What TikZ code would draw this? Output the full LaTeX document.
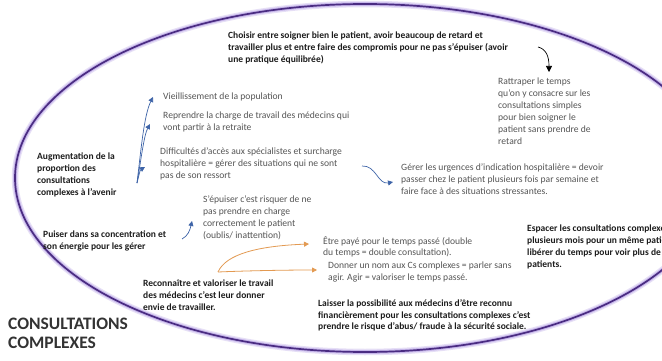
\documentclass[tikz,border=0pt]{standalone}
\usepackage{fontspec}
\setmainfont{Carlito}
\usetikzlibrary{arrows.meta}
\definecolor{ringdark}{HTML}{4A2C82}
\definecolor{ringglow}{HTML}{B9A5E6}
\definecolor{txtgray}{HTML}{555555}
\definecolor{txtdark}{HTML}{1C1C1C}
\definecolor{arrblue}{HTML}{3E64A8}
\definecolor{arrorange}{HTML}{E39A52}
\begin{document}
\begin{tikzpicture}[x=1pt,y=-1pt,
  note/.style={anchor=north west, inner sep=0pt, align=left, text=txtgray,
    font=\fontsize{9.6}{11.9}\selectfont},
  keynote/.style={note, text=txtdark, font=\fontsize{9.5}{11.9}\selectfont\bfseries},
  titletext/.style={anchor=north west, inner sep=0pt, align=left, text=txtdark!90,
    font=\fontsize{17.5}{19}\selectfont\bfseries},
  tip/.style={-{Triangle[width=5pt,length=5pt]}},
  bluearrow/.style={draw=arrblue, line width=0.7pt, tip},
  orangearrow/.style={draw=arrorange, line width=0.8pt, tip},
  blackarrow/.style={draw=black, line width=0.7pt, -{Triangle[width=6pt,length=6pt]}},
]
\useasboundingbox (0,0) rectangle (662,361);
\fill[white] (0,0) rectangle (662,361);
\begin{scope}
\clip (0,0) rectangle (662,361);

% glowing ring around the whole map
\draw[ringglow, opacity=0.35, line width=6.5pt] (365,178) ellipse [x radius=350, y radius=174];
\draw[ringglow, opacity=0.7, line width=3.8pt] (365,178) ellipse [x radius=350, y radius=174];
\draw[ringdark, line width=1.7pt] (365,178) ellipse [x radius=350, y radius=174];

% text blocks
\node[keynote] (choisir) at (228,32) {Choisir entre soigner bien le patient, avoir beaucoup de retard et\\
  travailler plus et entre faire des compromis pour ne pas s'épuiser (avoir\\
  une pratique équilibrée)};
\node[note] (rattraper) at (498,78) {Rattraper le temps\\ qu'on y consacre sur les\\
  consultations simples\\ pour bien soigner le\\ patient sans prendre de\\ retard};
\node[note] (vieil) at (163,93) {Vieillissement de la population};
\node[note] (reprendre) at (163,112) {Reprendre la charge de travail des médecins qui\\
  vont partir à la retraite};
\node[note] (difficultes) at (160,148) {Difficultés d'accès aux spécialistes et surcharge\\
  hospitalière = gérer des situations qui ne sont\\ pas de son ressort};
\node[keynote] (augmentation) at (37,153) {Augmentation de la\\ proportion des\\
  consultations\\ complexes à l'avenir};
\node[note] (gerer) at (401,164) {Gérer les urgences d'indication hospitalière = devoir\\
  passer chez le patient plusieurs fois par semaine et\\ faire face à des situations stressantes.};
\node[keynote] (puiser) at (43,231) {Puiser dans sa concentration et\\ son énergie pour les gérer};
\node[note] (epuiser) at (203,196) {S'épuiser c'est risquer de ne\\ pas prendre en charge\\
  correctement le patient\\ (oublis/ inattention)};
\node[note] (etre) at (323,236) {Être payé pour le temps passé (double\\ du temps = double consultation).};
\node[note] (donner) at (328,262) {Donner un nom aux Cs complexes = parler sans\\
  agir. Agir = valoriser le temps passé.};
\node[keynote] (reconnaitre) at (143,280) {Reconnaître et valoriser le travail\\
  des médecins c'est leur donner\\ envie de travailler.};
\node[keynote] (laisser) at (318,299) {Laisser la possibilité aux médecins d'être reconnu\\
  financièrement pour les consultations complexes c'est\\
  prendre le risque d'abus/ fraude à la sécurité sociale.};
\node[keynote] (espacer) at (527,225) {Espacer les consultations complexes sur\\
  plusieurs mois pour un même patient et\\ libérer du temps pour voir plus de\\ patients.};
\node[titletext] (titre) at (8,318) {CONSULTATIONS\\ COMPLEXES};

% arrow ends
\coordinate (blueroot) at (137,183);
\coordinate (toVieil) at (153,97);
\coordinate (toReprendre) at (150,124);
\coordinate (toDiff) at (145,167);
\coordinate (gerTail) at (362,166);
\coordinate (gerHead) at (393,182);
\coordinate (epTail) at (182,239);
\coordinate (epHead) at (192,221);
\coordinate (orRoot) at (218,272);
\coordinate (toEtre) at (309,244);
\coordinate (toDonner) at (317,270);
\coordinate (blkTail) at (538,47);
\coordinate (blkHead) at (549,72);

% connectors
\draw[bluearrow] (blueroot) .. controls (141,150) and (144,115) .. (toVieil);
\draw[bluearrow] (blueroot) .. controls (141,160) and (144,135) .. (toReprendre);
\draw[bluearrow] (blueroot) .. controls (139,175) and (140,170) .. (toDiff);
\draw[bluearrow] (gerTail) .. controls (376,165) and (378,185) .. (gerHead);
\draw[bluearrow] (epTail) .. controls (188,236) and (190,230) .. (epHead);
\draw[orangearrow] (orRoot) .. controls (226,254) and (258,246) .. (toEtre);
\draw[orangearrow] (orRoot) .. controls (240,271) and (280,270) .. (toDonner);
\draw[blackarrow] (blkTail) .. controls (546,49) and (549,56) .. (blkHead);
\end{scope}
\end{tikzpicture}
\end{document}
